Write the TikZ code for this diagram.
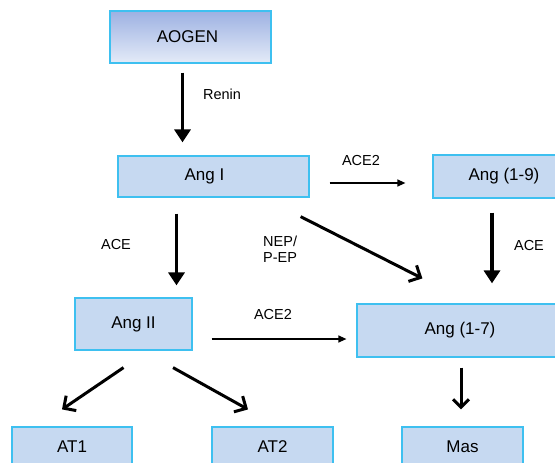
\documentclass[tikz,border=0pt]{standalone}
\usepackage{fontspec}
\setmainfont{Liberation Sans}
\usetikzlibrary{arrows.meta}

\definecolor{boxfill}{HTML}{C6D9F1}
\definecolor{boxline}{HTML}{3EC0F0}
\definecolor{gradtop}{HTML}{9DB1E2}
\definecolor{gradbot}{HTML}{E4EBF8}

\tikzset{
  box/.style={draw=boxline, line width=1.2pt, fill=boxfill, inner sep=0pt,
    font=\fontsize{17}{20}\selectfont},
  lbl/.style={font=\fontsize{14.5}{17}\selectfont, inner sep=0pt},
  bigarrow/.style={line width=3.3pt, -{Triangle[length=13pt, width=16pt]}},
  barbarrow/.style={line width=3pt, -{Straight Barb[length=9pt, width=18pt, line width=3pt]}},
  thinarrow/.style={line width=1.3pt, -{Triangle[length=8pt, width=7pt]}}
}

\begin{document}
\begin{tikzpicture}[x=1pt, y=-1pt]
  \useasboundingbox (0,0) rectangle (555,463);
  \clip (0,0) rectangle (555,463);

  % boxes
  \node[box, top color=gradtop, bottom color=gradbot, minimum width=161pt, minimum height=52pt] (aogen) at (190.5, 37) {AOGEN\hspace*{6pt}};
  \node[box, minimum width=191pt, minimum height=41pt] (angI) at (213.5, 176.5) {Ang I\hspace*{18pt}};
  \node[box, minimum width=142pt, minimum height=43pt] (ang19) at (504, 176.5) {Ang (1-9)};
  \node[box, minimum width=117pt, minimum height=52pt] (angII) at (133.5, 324) {Ang II};
  \node[box, minimum width=206pt, minimum height=53pt] (ang17) at (460, 330.5) {Ang (1-7)};
  \node[box, minimum width=120pt, minimum height=40pt] (at1) at (72, 447) {AT1};
  \node[box, minimum width=121pt, minimum height=40pt] (at2) at (272.5, 447) {AT2};
  \node[box, minimum width=121pt, minimum height=40pt] (mas) at (462.5, 447) {Mas};

  % enzyme labels
  \node[lbl] (renin) at (222, 94) {Renin};
  \node[lbl] (aceI) at (116, 245) {ACE};
  \node[lbl] (ace19) at (529, 246) {ACE};
  \node[lbl] (ace2top) at (361, 161) {ACE2};
  \node[lbl] (ace2mid) at (273, 315) {ACE2};
  \node[lbl, align=left, anchor=west] (nep) at (263, 249) {NEP/\\[-1pt]P-EP};

  % conversions
  \draw[bigarrow, shorten <=9pt, shorten >=13pt] ([xshift=-8pt]aogen.south) -- ([xshift=-8pt]aogen.south |- angI.north);
  \draw[bigarrow, shorten <=16pt, shorten >=12pt] ([xshift=-37pt]angI.south) -- ([xshift=-37pt]angI.south |- angII.north);
  \draw[bigarrow, shorten <=14pt, shorten >=20pt] ([xshift=-12pt]ang19.south) -- ([xshift=-12pt]ang19.south |- ang17.north);
  \draw[thinarrow, shorten <=20pt, shorten >=27pt] ([yshift=-6.5pt]angI.east) -- ([yshift=-6.5pt]angI.east -| ang19.west);
  \draw[thinarrow, shorten <=19pt, shorten >=10pt] ([yshift=-15pt]angII.east) -- ([yshift=-15pt]angII.east -| ang17.west);
  \draw[barbarrow] ([shift={(-9,19)}]angI.south east) -- ([shift={(66,-25)}]ang17.north west);

  % receptors
  \draw[barbarrow] ([shift={(-10,17)}]angII.south) -- ([shift={(-10,-17)}]at1.north);
  \draw[barbarrow] ([shift={(39.5,17)}]angII.south) -- ([shift={(-24.5,-17)}]at2.north);
  \draw[line width=3pt, -{Straight Barb[length=8pt, width=16pt, line width=3pt]}, shorten <=10pt, shorten >=17pt] ([xshift=1pt]ang17.south) -- ([xshift=1pt]ang17.south |- mas.north);
\end{tikzpicture}
\end{document}
